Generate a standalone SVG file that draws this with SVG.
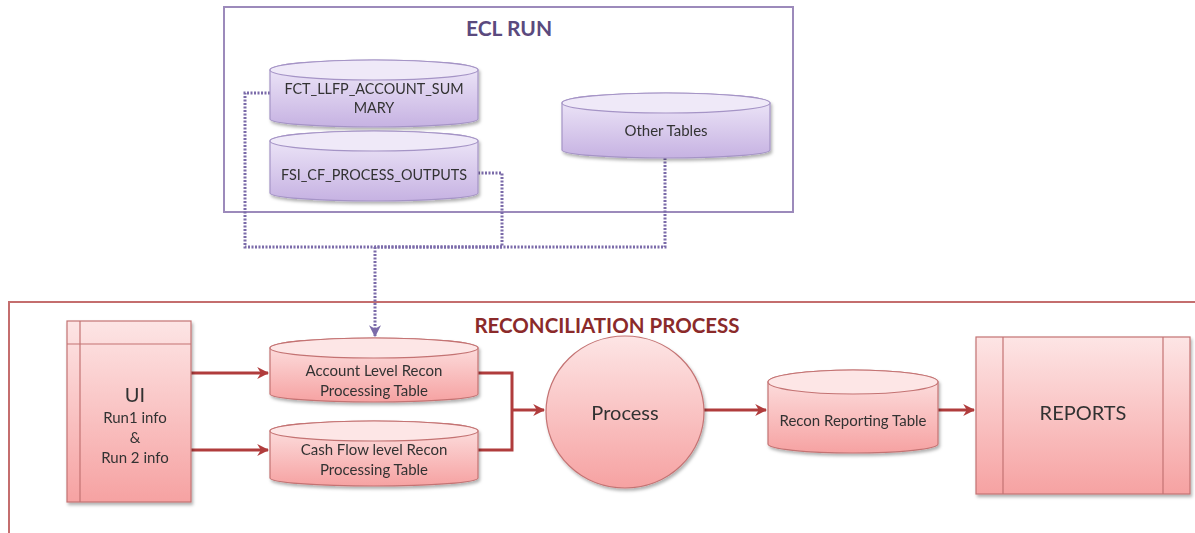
<svg xmlns="http://www.w3.org/2000/svg" width="1195" height="533" viewBox="0 0 1195 533">
<style>
.t{font-family:Lato,"Open Sans","Liberation Sans",sans-serif;fill:#333;text-anchor:middle;dominant-baseline:central}
.s14{font-size:15px}
.s14n{font-size:14.4px}
.pcyl{fill:url(#pg);stroke:#a594c6;stroke-width:1.2}
.ptop{fill:#efe9f8;stroke:#a594c6;stroke-width:1.2}
.rcyl{fill:url(#rg);stroke:#c47373;stroke-width:1.2}
.rtop{fill:#fde6e6;stroke:#c47373;stroke-width:1.2}
.rbox{fill:url(#rg);stroke:#c47373;stroke-width:1.2}
.inner{stroke:#c47373;stroke-width:1.2;fill:none}
.dot{fill:none;stroke:#7b6ba9;stroke-width:3;stroke-dasharray:2 1.5}
.red{fill:none;stroke:#b03c3c;stroke-width:3}
</style>
<defs>
<linearGradient id="pg" x1="0" y1="0" x2="0" y2="1">
<stop offset="0" stop-color="#f1ebfa"/><stop offset="1" stop-color="#c6b2e2"/>
</linearGradient>
<linearGradient id="rg" x1="0" y1="0" x2="0" y2="1">
<stop offset="0" stop-color="#fde5e5"/><stop offset="1" stop-color="#f6a2a2"/>
</linearGradient>
<filter id="sh" x="-10%" y="-10%" width="130%" height="130%">
<feDropShadow dx="1.5" dy="2.5" stdDeviation="1.8" flood-color="#000" flood-opacity="0.3"/>
</filter>
<marker id="ar" viewBox="0 0 10 10" refX="9" refY="5" markerWidth="4" markerHeight="4" orient="auto" markerUnits="strokeWidth">
<path d="M0,0 L10,5 L0,10 L3,5 Z" fill="#b03c3c"/>
</marker>
<marker id="ap" viewBox="0 0 10 10" refX="9" refY="5" markerWidth="4" markerHeight="4" orient="auto" markerUnits="strokeWidth">
<path d="M0,0 L10,5 L0,10 L3,5 Z" fill="#7b6ba9"/>
</marker>
</defs>
<rect width="1195" height="533" fill="#fff"/>

<g id="ecl-run">
<rect x="224" y="7" width="569" height="205" fill="none" stroke="#9c8abb" stroke-width="2"/>
<text class="t" x="509" y="27" style="font-size:21px;font-weight:bold;fill:#5b4a7e">ECL RUN</text>
</g>

<g id="reconciliation-process">
<rect x="9" y="302" width="1200" height="250" fill="none" stroke="#c46e6e" stroke-width="2"/>
<text class="t" x="607" y="325" style="font-size:20.5px;font-weight:bold;fill:#8b2a2a">RECONCILIATION PROCESS</text>
</g>

<g id="connectors">
<path class="dot" d="M270,93 H245 V247 H375"/>
<path class="dot" d="M478,173 H502 V247 H375"/>
<path class="dot" d="M665,158 V247 H375"/>
<path class="dot" d="M375,247 V336" marker-end="url(#ap)"/>
<path class="red" d="M191,373 H268" marker-end="url(#ar)"/>
<path class="red" d="M191,450 H268" marker-end="url(#ar)"/>
<path class="red" d="M478,373 H512 V450 H478"/>
<path class="red" d="M512,410 H544" marker-end="url(#ar)"/>
<path class="red" d="M704,410 H766" marker-end="url(#ar)"/>
<path class="red" d="M938,410 H974" marker-end="url(#ar)"/>
</g>

<g id="fct-llfp-account-summary" filter="url(#sh)">
<path class="pcyl" d="M270,70 V119 A104,8 0 0 0 478,119 V70 A104,10 0 0 0 270,70 Z"/>
<ellipse class="ptop" cx="374" cy="70" rx="104" ry="10"/>
<text class="t s14n" x="374" y="88">FCT_LLFP_ACCOUNT_SUM</text>
<text class="t s14n" x="374" y="107">MARY</text>
</g>

<g id="fsi-cf-process-outputs" filter="url(#sh)">
<path class="pcyl" d="M270,141 V193 A104,8 0 0 0 478,193 V141 A104,10 0 0 0 270,141 Z"/>
<ellipse class="ptop" cx="374" cy="141" rx="104" ry="10"/>
<text class="t s14n" x="374" y="174">FSI_CF_PROCESS_OUTPUTS</text>
</g>

<g id="other-tables" filter="url(#sh)">
<path class="pcyl" d="M562,103 V150 A104,8 0 0 0 770,150 V103 A104,10 0 0 0 562,103 Z"/>
<ellipse class="ptop" cx="666" cy="103" rx="104" ry="10"/>
<text class="t s14" x="666" y="130">Other Tables</text>
</g>

<g id="ui" filter="url(#sh)">
<rect class="rbox" x="67" y="321" width="124" height="181"/>
<path class="inner" d="M80,321 V502 M67,344 H191"/>
<text class="t" x="135" y="394" style="font-size:20px">UI</text>
<text class="t s14" x="135" y="417">Run1 info</text>
<text class="t s14" x="135" y="437">&amp;</text>
<text class="t s14" x="135" y="457">Run 2 info</text>
</g>

<g id="account-level-recon" filter="url(#sh)">
<path class="rcyl" d="M270,348 V394 A104,8 0 0 0 478,394 V348 A104,10 0 0 0 270,348 Z"/>
<ellipse class="rtop" cx="374" cy="348" rx="104" ry="10"/>
<text class="t s14" x="374" y="370">Account Level Recon</text>
<text class="t s14" x="374" y="390">Processing Table</text>
</g>

<g id="cash-flow-level-recon" filter="url(#sh)">
<path class="rcyl" d="M270,431 V478 A104,8 0 0 0 478,478 V431 A104,10 0 0 0 270,431 Z"/>
<ellipse class="rtop" cx="374" cy="431" rx="104" ry="10"/>
<text class="t s14" x="374" y="449">Cash Flow level Recon</text>
<text class="t s14" x="374" y="469">Processing Table</text>
</g>

<g id="process" filter="url(#sh)">
<ellipse cx="625" cy="412" rx="79" ry="76" fill="url(#rg)" stroke="#c47373" stroke-width="1.2"/>
<text class="t" x="625" y="412" style="font-size:20px">Process</text>
</g>

<g id="recon-reporting-table" filter="url(#sh)">
<path class="rcyl" d="M768,382 V444 A85,9 0 0 0 938,444 V382 A85,12 0 0 0 768,382 Z"/>
<ellipse class="rtop" cx="853" cy="382" rx="85" ry="12"/>
<text class="t s14" x="853" y="420">Recon Reporting Table</text>
</g>

<g id="reports" filter="url(#sh)">
<rect class="rbox" x="976" y="337" width="214" height="157"/>
<path class="inner" d="M1003,337 V494 M1163,337 V494"/>
<text class="t" x="1083" y="412" style="font-size:20px">REPORTS</text>
</g>
</svg>
